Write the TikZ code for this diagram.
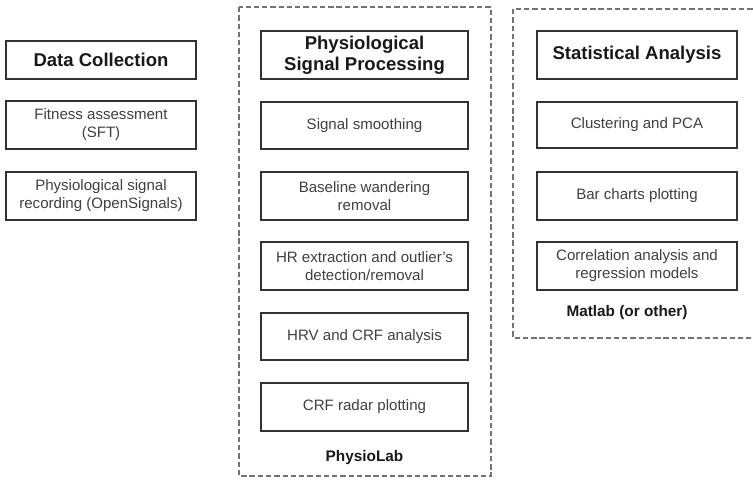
\documentclass[tikz,border=0pt]{standalone}
\usepackage{fontspec}
\setmainfont{Liberation Sans}
\begin{document}
\begin{tikzpicture}[x=0.75pt,y=-0.75pt,
  stepbox/.style={draw=black!80,line width=1.4pt,fill=white,align=center,inner sep=0pt,
    text=black!75,font=\fontsize{11.3pt}{13.5pt}\selectfont},
  headbox/.style={stepbox,text=black!90,font=\fontsize{13.9pt}{15.8pt}\selectfont\bfseries},
  groupbox/.style={draw=black!55,line width=0.8pt,dash pattern=on 4pt off 2.2pt},
  grouplabel/.style={text=black!90,font=\fontsize{11.5pt}{13.5pt}\selectfont\bfseries,inner sep=0pt}]
\useasboundingbox (0,0) rectangle (753,479);
\clip (0,0) rectangle (753,479);
\fill[white] (0,0) rectangle (753,479);
% group frames
\draw[groupbox] (239,7) rectangle (491,476);
\draw[groupbox] (513,9) rectangle (775,338);
% left column
\node[headbox,minimum width=190*0.75pt,minimum height=38*0.75pt] (dc) at (101,60) {Data Collection};
\node[stepbox,minimum width=190*0.75pt,minimum height=48*0.75pt] (fit) at (101,125) {Fitness assessment\\(SFT)};
\node[stepbox,minimum width=190*0.75pt,minimum height=48*0.75pt] (rec) at (101,196) {Physiological signal\\recording (OpenSignals)};
% middle column
\node[headbox,minimum width=207*0.75pt,minimum height=48*0.75pt] (psp) at (364.5,55) {Physiological\\Signal Processing};
\node[stepbox,minimum width=207*0.75pt,minimum height=47*0.75pt] (ss) at (364.5,125.5) {Signal smoothing};
\node[stepbox,minimum width=207*0.75pt,minimum height=48*0.75pt] (bw) at (364.5,196) {Baseline wandering\\removal};
\node[stepbox,minimum width=207*0.75pt,minimum height=48*0.75pt] (hr) at (364.5,266) {HR extraction and outlier's\\detection/removal};
\node[stepbox,minimum width=207*0.75pt,minimum height=47*0.75pt] (hrv) at (364.5,336.5) {HRV and CRF analysis};
\node[stepbox,minimum width=207*0.75pt,minimum height=48*0.75pt] (crf) at (364.5,407) {CRF radar plotting};
\node[grouplabel] (pl) at (364.5,458) {PhysioLab};
% right column
\node[headbox,minimum width=200*0.75pt,minimum height=48*0.75pt] (sa) at (637,55) {Statistical Analysis};
\node[stepbox,minimum width=200*0.75pt,minimum height=46*0.75pt] (cl) at (637,125) {Clustering and PCA};
\node[stepbox,minimum width=200*0.75pt,minimum height=48*0.75pt] (bar) at (637,196) {Bar charts plotting};
\node[stepbox,minimum width=200*0.75pt,minimum height=48*0.75pt] (cor) at (637,266) {Correlation analysis and\\regression models};
\node[grouplabel] (ml) at (627,313) {Matlab (or other)};
\end{tikzpicture}
\end{document}
